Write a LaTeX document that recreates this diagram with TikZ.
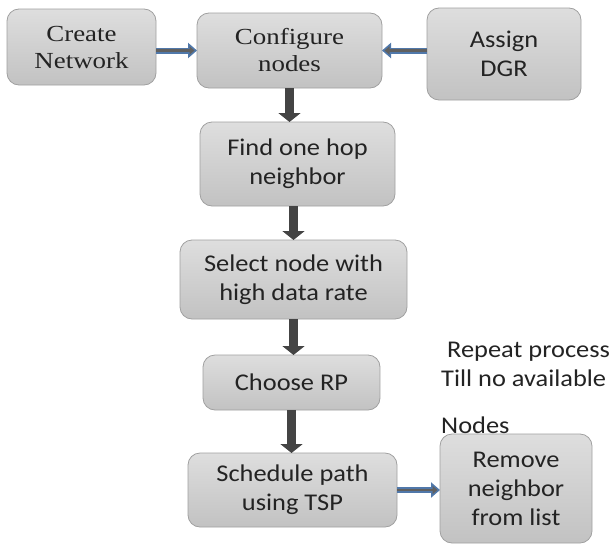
\documentclass[tikz,border=0pt]{standalone}
\usepackage{fontspec}
\newfontfamily\serifx[FakeStretch=1.17]{Liberation Serif}
\newfontfamily\sansx[FakeStretch=1.1]{Carlito}
\usetikzlibrary{arrows.meta}
\definecolor{boxline}{RGB}{160,160,160}
\definecolor{boxtop}{RGB}{222,222,222}
\definecolor{boxbot}{RGB}{194,194,194}
\definecolor{txt}{RGB}{35,35,35}
\definecolor{bluearr}{RGB}{80,120,170}
\definecolor{darkarr}{RGB}{68,68,68}
\tikzset{
  box/.style={draw=boxline, line width=0.8pt, rounded corners=12pt,
    top color=boxtop, bottom color=boxbot, align=center, text=txt,
    inner sep=0pt, outer sep=0pt},
  serifbox/.style={box, font=\serifx\fontsize{23}{27}\selectfont},
  sansbox/.style={box, font=\sansx\fontsize{24}{29}\selectfont},
  freetext/.style={anchor=west, text=txt, inner sep=0pt, font=\sansx\fontsize{24}{26}\selectfont},
  bluearrow/.style={draw=bluearr, line width=6pt, -{Triangle[width=15pt,length=9pt]},
    postaction={draw=darkarr!85, line width=2.6pt, -{Triangle[width=8pt,length=5pt]}, shorten >=2.5pt}},
  darkarrow/.style={draw=darkarr, line width=9pt, -{Triangle[width=22pt,length=9pt]}}
}
\begin{document}
\begin{tikzpicture}[x=1pt,y=-1pt]
\useasboundingbox (0,0) rectangle (612,546);
\node[serifbox, minimum width=149pt, minimum height=76pt] (create) at (81.5,47) {Create\\Network};
\node[serifbox, minimum width=185pt, minimum height=75pt] (config) at (289.5,50.5) {Configure\\nodes};
\node[sansbox, minimum width=154pt, minimum height=92pt] (dgr) at (504,54) {Assign\\DGR};
\node[sansbox, minimum width=195pt, minimum height=84pt] (find) at (297.5,164) {Find one hop\\neighbor};
\node[sansbox, minimum width=227pt, minimum height=79pt] (select) at (293.5,279.5) {Select node with\\high data rate};
\node[sansbox, minimum width=177pt, minimum height=55pt] (choose) at (291.5,382.5) {Choose RP};
\node[sansbox, minimum width=209pt, minimum height=74pt] (sched) at (292.5,490) {Schedule path\\using TSP};
\node[sansbox, minimum width=152pt, minimum height=109pt] (remove) at (516,488.5) {Remove\\neighbor\\from list};
\node[freetext] (t1) at (447,352) {Repeat process};
\node[freetext] (t2) at (441,378) {Till no available};
\node[freetext] (t3) at (441,425) {Nodes};
\draw[bluearrow] (create.east |- config.west) -- (config.west);
\draw[bluearrow] (dgr.west |- config.east) -- (config.east);
\draw[darkarrow] (config.south) -- (config.south |- find.north);
\draw[darkarrow] (select.north |- find.south) -- (select.north);
\draw[darkarrow] (select.south) -- (select.south |- choose.north);
\draw[darkarrow] (choose.south) -- (choose.south |- sched.north);
\draw[bluearrow] (sched.east) -- (sched.east -| remove.west);
\end{tikzpicture}
\end{document}
